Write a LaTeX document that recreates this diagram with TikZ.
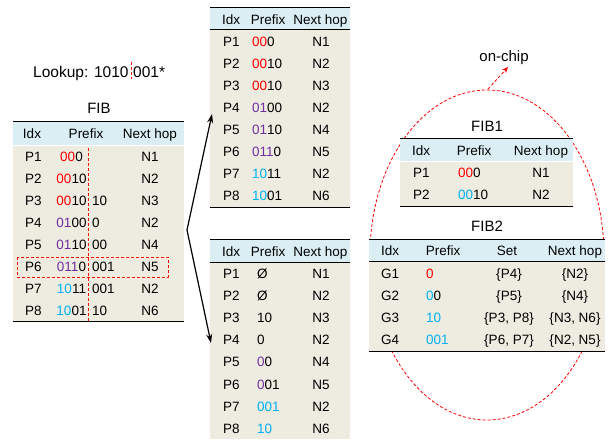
\documentclass[tikz,border=0pt]{standalone}
\usepackage{fontspec}
\setmainfont{Liberation Sans}
\usetikzlibrary{arrows.meta}
\definecolor{hdr}{HTML}{DAEEF3}
\definecolor{bdy}{HTML}{EEECE1}
\definecolor{cred}{HTML}{FF0000}
\definecolor{cpur}{HTML}{7030A0}
\definecolor{ccya}{HTML}{00B0F0}
\newcommand{\cR}[1]{\textcolor{cred}{#1}}
\newcommand{\cP}[1]{\textcolor{cpur}{#1}}
\newcommand{\cC}[1]{\textcolor{ccya}{#1}}
\begin{document}
\begin{tikzpicture}[x=1pt,y=-1pt,
  font=\fontsize{13.5}{16}\selectfont,
  txt/.style={inner sep=0pt, anchor=base},
  txtl/.style={inner sep=0pt, anchor=base west},
  ttl/.style={inner sep=0pt, anchor=base, font=\fontsize{15}{18}\selectfont},
  rulel/.style={line width=1pt},
  reddash/.style={draw=cred, line width=0.8pt, dash pattern=on 3pt off 2pt},
  arr/.style={line width=1.2pt, -{Stealth[length=9pt,width=6pt]}}]
\useasboundingbox (0,0) rectangle (609,439);

% ---------------- Lookup text ----------------
\node[txtl, font=\fontsize{15.5}{18}\selectfont] (lk1) at (33,77) {Lookup: 1010};
\node[txtl, font=\fontsize{15.5}{18}\selectfont] (lk2) at (133,77) {001*};
\draw[reddash] (131,62) -- (131,79);

% ---------------- Left FIB ----------------
\node[ttl] (fibt) at (99,113) {FIB};
\fill[hdr] (13,121) rectangle (184,145);
\fill[bdy] (13,145) rectangle (184,321);
\draw[white, line width=1pt] (13,145) -- (184,145);
\draw[rulel] (13,121) -- (184,121);
\draw[rulel] (13,321) -- (184,321);
\node[txt] (lhi) at (32,138) {Idx};
\node[txt] (lhp) at (86,138) {Prefix};
\node[txt] (lhn) at (150,138) {Next hop};
\foreach \i/\pa/\pb/\nh in {
  1/{\cR{00}0}/{}/N1,
  2/{\cR{00}10}/{}/N2,
  3/{\cR{00}10}/{10}/N3,
  4/{\cP{01}00}/{0}/N2,
  5/{\cP{01}10}/{00}/N4,
  6/{\cP{011}0}/{001}/N5,
  7/{\cC{10}11}/{001}/N2,
  8/{\cC{10}01}/{10}/N6} {
  \node[txtl] (li\i) at (25,{161+22*(\i-1)}) {P\i};
  \node[txt]  (lpa\i) at (71.5,{161+22*(\i-1)}) {\pa};
  \node[txtl] (lpb\i) at (92,{161+22*(\i-1)}) {\pb};
  \node[txt]  (ln\i) at (150,{161+22*(\i-1)}) {\nh};
}
\draw[reddash] (88,148) -- (88,321);
\draw[reddash] (17,257) rectangle (168,277);

% ---------------- Top middle table ----------------
\fill[hdr] (210,7) rectangle (350,29);
\fill[bdy] (210,29) rectangle (350,207);
\draw[rulel] (210,7) -- (350,7);
\draw[rulel] (210,29) -- (350,29);
\draw[rulel] (210,207) -- (350,207);
\node[txt] (thi) at (231,24) {Idx};
\node[txt] (thp) at (268,24) {Prefix};
\node[txt] (thn) at (320.5,24) {Next hop};
\foreach \i/\pa/\nh in {
  1/{\cR{00}0}/N1,
  2/{\cR{00}10}/N2,
  3/{\cR{00}10}/N3,
  4/{\cP{01}00}/N2,
  5/{\cP{01}10}/N4,
  6/{\cP{011}0}/N5,
  7/{\cC{10}11}/N2,
  8/{\cC{10}01}/N6} {
  \node[txtl] (ti\i) at (223,{46+22.1*(\i-1)}) {P\i};
  \node[txtl] (tp\i) at (252,{46+22.1*(\i-1)}) {\pa};
  \node[txt]  (tn\i) at (321,{46+22.1*(\i-1)}) {\nh};
}

% ---------------- Bottom middle table ----------------
\fill[hdr] (210,239) rectangle (350,262);
\fill[bdy] (210,262) rectangle (350,439);
\draw[rulel] (210,239) -- (350,239);
\draw[rulel] (210,262) -- (350,262);
\node[txt] (bhi) at (231,256) {Idx};
\node[txt] (bhp) at (268,256) {Prefix};
\node[txt] (bhn) at (320.5,256) {Next hop};
\foreach \i/\pa/\nh in {
  1/{Ø}/N1,
  2/{Ø}/N2,
  3/{10}/N3,
  4/{0}/N2,
  5/{\cP{0}0}/N4,
  6/{\cP{0}01}/N5,
  7/{\cC{001}}/N2,
  8/{\cC{10}}/N6} {
  \node[txtl] (bi\i) at (223,{278+22.2*(\i-1)}) {P\i};
  \node[txtl] (bp\i) at (257,{278+22.2*(\i-1)}) {\pa};
  \node[txt]  (bn\i) at (321,{278+22.2*(\i-1)}) {\nh};
}

% ---------------- Arrows ----------------
\coordinate (fork) at (187,230);
\coordinate (topin) at (212,114);
\coordinate (botin) at (211,343);
\draw[arr] (fork) -- (topin);
\draw[arr] (fork) -- (botin);

% ---------------- On-chip ellipse ----------------
\draw[reddash] (487,255) ellipse [x radius=117pt, y radius=165pt];
\node[txt, font=\fontsize{15}{18}\selectfont] (onchip) at (504,61) {on-chip};
\coordinate (elltop) at (488,89);
\coordinate (chiptip) at (508,67);
\draw[reddash, -{Stealth[length=6pt,width=5pt]}] (elltop) -- (chiptip);

% ---------------- FIB1 ----------------
\node[ttl] (fib1t) at (487,131) {FIB1};
\fill[hdr] (400,138) rectangle (573,161);
\fill[bdy] (400,161) rectangle (573,206);
\draw[white, line width=1pt] (400,161) -- (573,161);
\draw[rulel] (400,138) -- (573,138);
\draw[rulel] (400,206) -- (573,206);
\node[txt] (f1hi) at (421,155) {Idx};
\node[txt] (f1hp) at (474,155) {Prefix};
\node[txt] (f1hn) at (541,155) {Next hop};
\node[txtl] (f1i1) at (413,177) {P1};
\node[txtl] (f1p1) at (458,177) {\cR{00}0};
\node[txt]  (f1n1) at (541,177) {N1};
\node[txtl] (f1i2) at (413,199) {P2};
\node[txtl] (f1p2) at (458,199) {\cC{00}10};
\node[txt]  (f1n2) at (541,199) {N2};

% ---------------- FIB2 ----------------
\node[ttl] (fib2t) at (487,231) {FIB2};
\fill[hdr] (369,239) rectangle (605,261);
\fill[bdy] (369,261) rectangle (605,351);
\draw[rulel] (369,239) -- (605,239);
\draw[rulel] (369,261) -- (605,261);
\draw[rulel] (369,351) -- (605,351);
\node[txtl] (f2hi) at (381,255) {Idx};
\node[txt]  (f2hp) at (443,255) {Prefix};
\node[txt]  (f2hs) at (507,255) {Set};
\node[txt]  (f2hn) at (575,255) {Next hop};
\foreach \i/\pa/\st/\nh in {
  1/{\cR{0}}/{\{P4\}}/{\{N2\}},
  2/{\cC{0}0}/{\{P5\}}/{\{N4\}},
  3/{\cC{10}}/{\{P3, P8\}}/{\{N3, N6\}},
  4/{\cC{001}}/{\{P6, P7\}}/{\{N2, N5\}}} {
  \node[txtl] (gi\i) at (381,{278+22*(\i-1)}) {G\i};
  \node[txtl] (gp\i) at (426,{278+22*(\i-1)}) {\pa};
  \node[txt]  (gs\i) at (509,{278+22*(\i-1)}) {\st};
  \node[txt]  (gn\i) at (575,{278+22*(\i-1)}) {\nh};
}
\end{tikzpicture}
\end{document}
